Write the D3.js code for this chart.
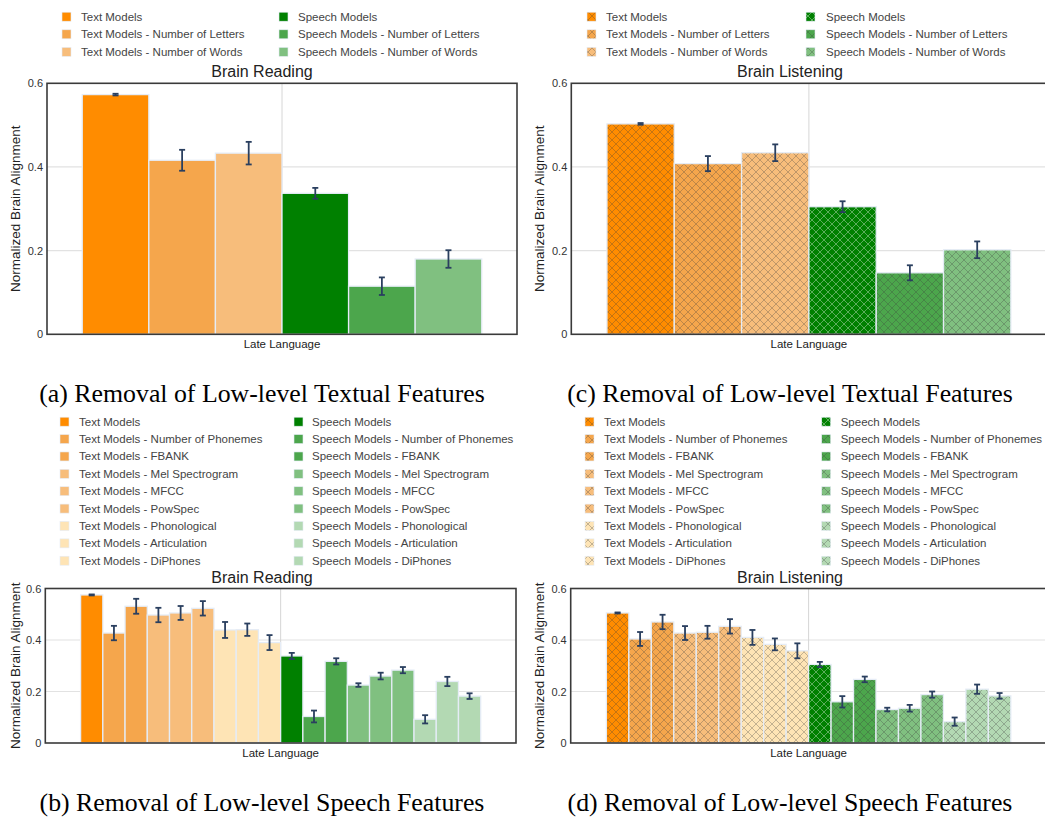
<!DOCTYPE html>
<html>
<head>
<meta charset="utf-8">
<script src="https://cdn.jsdelivr.net/npm/d3@7"></script>
<style>
  body { margin: 0; background: #fff; }
  svg { display: block; font-family: "Liberation Sans", Arial, sans-serif; }
</style>
</head>
<body>
<svg id="chart" width="1045" height="817"></svg>
<script>
const categories = ['Late Language'];
const yTicks = [0, 0.2, 0.4, 0.6];

const textSeries = [
    'Text Models', 'Text Models - Number of Letters', 'Text Models - Number of Words',
    'Speech Models', 'Speech Models - Number of Letters', 'Speech Models - Number of Words'
];
const speechSeries = [
    'Text Models', 'Text Models - Number of Phonemes', 'Text Models - FBANK',
    'Text Models - Mel Spectrogram', 'Text Models - MFCC', 'Text Models - PowSpec',
    'Text Models - Phonological', 'Text Models - Articulation', 'Text Models - DiPhones',
    'Speech Models', 'Speech Models - Number of Phonemes', 'Speech Models - FBANK',
    'Speech Models - Mel Spectrogram', 'Speech Models - MFCC', 'Speech Models - PowSpec',
    'Speech Models - Phonological', 'Speech Models - Articulation', 'Speech Models - DiPhones'
];

const textColors = ['#ff8c00', '#f5a64c', '#f7bd7b', '#008000', '#4ca64c', '#80c080'];
const speechColors = [
    '#ff8c00', '#f5a64c', '#f5a64c', '#f7bd7b', '#f7bd7b', '#f7bd7b', '#fee4b5', '#fee4b5', '#fee4b5',
    '#008000', '#4ca64c', '#4ca64c', '#80c080', '#80c080', '#80c080', '#b3d9b3', '#b3d9b3', '#b3d9b3'
];

// (a) reading, textual features removed
const readingTextVals = [0.573, 0.416, 0.433, 0.337, 0.115, 0.180];
const readingTextErr  = [0.002, 0.025, 0.027, 0.013, 0.021, 0.021];
// (c) listening, textual features removed
const listeningTextVals = [0.503, 0.408, 0.434, 0.305, 0.147, 0.202];
const listeningTextErr  = [0.002, 0.018, 0.020, 0.013, 0.018, 0.020];
// (b) reading, speech features removed
const readingSpeechVals = [0.575, 0.427, 0.531, 0.497, 0.505, 0.523, 0.439, 0.440, 0.390,
                           0.338, 0.103, 0.317, 0.225, 0.260, 0.283, 0.092, 0.239, 0.182];
const readingSpeechErr  = [0.002, 0.028, 0.029, 0.028, 0.027, 0.028, 0.031, 0.024, 0.029,
                           0.012, 0.023, 0.012, 0.007, 0.013, 0.012, 0.016, 0.018, 0.011];
// (d) listening, speech features removed
const listeningSpeechVals = [0.505, 0.404, 0.470, 0.427, 0.430, 0.453, 0.410, 0.383, 0.358,
                             0.305, 0.160, 0.247, 0.130, 0.135, 0.188, 0.083, 0.209, 0.183];
const listeningSpeechErr  = [0.002, 0.027, 0.028, 0.027, 0.025, 0.028, 0.029, 0.023, 0.029,
                             0.010, 0.022, 0.011, 0.007, 0.013, 0.012, 0.016, 0.018, 0.011];

const svg = d3.select('#chart');
const defs = svg.append('defs');

// crosshatch pattern per colour (light lines on dark fills)
const patternId = {};
function hatch(color) {
    if (patternId[color]) return patternId[color];
    const id = 'hatch' + Object.keys(patternId).length;
    const fg = d3.hsl(color).l < 0.35 ? 'rgba(255,255,255,0.45)' : 'rgba(60,60,60,0.38)';
    const p = defs.append('pattern')
        .attr('id', id)
        .attr('patternUnits', 'userSpaceOnUse')
        .attr('width', 8).attr('height', 8);
    p.append('rect').attr('width', 8).attr('height', 8).attr('fill', color);
    p.append('path')
        .attr('d', 'M0,0L8,8M8,0L0,8M-1,7L1,9M7,-1L9,1')
        .attr('stroke', fg)
        .attr('stroke-width', 0.8)
        .attr('fill', 'none');
    patternId[color] = id;
    return id;
}

function drawPanel(cfg) {
    const n = cfg.series.length;
    const fillOf = i => cfg.hatched ? `url(#${hatch(cfg.colors[i])})` : cfg.colors[i];

    // legend, two columns: text models then speech models
    const rows = n / 2;
    cfg.series.forEach((name, i) => {
        const col = i < rows ? 0 : 1;
        const y = cfg.legendY0 + (i % rows) * cfg.legendStep;
        const mx = cfg.legendX[col][0], tx = cfg.legendX[col][1];
        svg.append('rect')
            .attr('x', mx).attr('y', y - 4.5)
            .attr('width', 9).attr('height', 9)
            .attr('fill', fillOf(i))
            .attr('stroke', '#e5ecf6').attr('stroke-width', 0.6);
        svg.append('text')
            .attr('x', tx).attr('y', y)
            .attr('dominant-baseline', 'central')
            .attr('font-size', 11.5)
            .attr('fill', '#444')
            .text(name);
    });

    const x = d3.scaleBand()
        .domain(categories)
        .range([cfg.left, cfg.right])
        .paddingInner(0.15)
        .paddingOuter(0.075);

    const xs = d3.scaleBand()
        .domain(cfg.series)
        .range([0, x.bandwidth()]);

    const y = d3.scaleLinear()
        .domain([0, 0.6])
        .range([cfg.bottom, cfg.top]);

    // grid
    svg.append('g')
        .selectAll('line')
        .data(yTicks.filter(t => t > 0 && t < 0.6))
        .enter().append('line')
        .attr('x1', cfg.left).attr('x2', cfg.right)
        .attr('y1', d => y(d)).attr('y2', d => y(d))
        .attr('stroke', '#e2e2e2').attr('stroke-width', 1.2);

    svg.append('line')
        .attr('x1', x(categories[0]) + x.bandwidth() / 2)
        .attr('x2', x(categories[0]) + x.bandwidth() / 2)
        .attr('y1', cfg.top).attr('y2', cfg.bottom)
        .attr('stroke', '#d6d6d6').attr('stroke-width', 1);

    // y axis
    const yAxis = svg.append('g')
        .attr('transform', `translate(${cfg.left},0)`)
        .call(d3.axisLeft(y).tickValues(yTicks)
            .tickFormat(d => d === 0 ? '0' : d3.format('.1f')(d))
            .tickSize(0).tickPadding(4));
    yAxis.select('.domain').remove();
    yAxis.selectAll('text').attr('font-size', 11).attr('fill', '#333')
        .attr('font-family', '"Liberation Sans", Arial, sans-serif');

    // x axis label
    const xAxis = svg.append('g')
        .attr('transform', `translate(0,${cfg.bottom})`)
        .call(d3.axisBottom(x).tickSize(0).tickPadding(6));
    xAxis.select('.domain').remove();
    xAxis.selectAll('text').attr('font-size', 11.5).attr('fill', '#222')
        .attr('font-family', '"Liberation Sans", Arial, sans-serif');

    // bars
    const bars = cfg.series.map((s, i) => ({ s, i, v: cfg.values[i], e: cfg.errors[i] }));
    const x0 = x(categories[0]);
    svg.append('g')
        .selectAll('rect')
        .data(bars)
        .enter().append('rect')
        .attr('x', d => x0 + xs(d.s))
        .attr('y', d => y(d.v))
        .attr('width', xs.bandwidth())
        .attr('height', d => cfg.bottom - y(d.v))
        .attr('fill', d => fillOf(d.i))
        .attr('stroke', '#e5ecf6')
        .attr('stroke-width', 1.3);

    // error bars
    const eg = svg.append('g')
        .attr('stroke', '#2a3f5f')
        .attr('stroke-width', 1.8);
    bars.forEach(d => {
        const cx = x0 + xs(d.s) + xs.bandwidth() / 2;
        const y1 = y(d.v + d.e), y2 = y(d.v - d.e);
        eg.append('line').attr('x1', cx).attr('x2', cx).attr('y1', y1).attr('y2', y2);
        eg.append('line').attr('x1', cx - 3).attr('x2', cx + 3).attr('y1', y1).attr('y2', y1);
        eg.append('line').attr('x1', cx - 3).attr('x2', cx + 3).attr('y1', y2).attr('y2', y2);
    });

    // frame
    svg.append('rect')
        .attr('x', cfg.left).attr('y', cfg.top)
        .attr('width', cfg.right - cfg.left)
        .attr('height', cfg.bottom - cfg.top)
        .attr('fill', 'none')
        .attr('stroke', '#3a3a3a')
        .attr('stroke-width', 1.6);

    // titles
    svg.append('text')
        .attr('x', cfg.titleX).attr('y', cfg.top - 6)
        .attr('text-anchor', 'middle')
        .attr('font-size', 16)
        .attr('fill', '#222')
        .text(cfg.title);

    svg.append('text')
        .attr('text-anchor', 'middle')
        .attr('font-size', 13.5)
        .attr('fill', '#222')
        .attr('transform', `translate(${cfg.yTitleX},${(cfg.top + cfg.bottom) / 2}) rotate(-90)`)
        .attr('dominant-baseline', 'central')
        .text('Normalized Brain Alignment');

    svg.append('text')
        .attr('x', cfg.captionX).attr('y', cfg.captionY)
        .attr('text-anchor', 'middle')
        .attr('font-family', '"Liberation Serif", "Times New Roman", serif')
        .attr('font-size', 25.8)
        .attr('fill', '#000')
        .text(cfg.caption);
}

drawPanel({
    series: textSeries, colors: textColors, values: readingTextVals, errors: readingTextErr,
    hatched: false, title: 'Brain Reading',
    left: 47, right: 517, top: 83.3, bottom: 334.3,
    legendY0: 16.7, legendStep: 17.6, legendX: [[62, 81], [279, 298]],
    titleX: 262, yTitleX: 15,
    caption: '(a) Removal of Low-level Textual Features', captionX: 262, captionY: 402
});

drawPanel({
    series: textSeries, colors: textColors, values: listeningTextVals, errors: listeningTextErr,
    hatched: true, title: 'Brain Listening',
    left: 571.3, right: 1046.5, top: 83.3, bottom: 334.3,
    legendY0: 16.7, legendStep: 17.6, legendX: [[587, 606], [806, 826]],
    titleX: 790, yTitleX: 539,
    caption: '(c) Removal of Low-level Textual Features', captionX: 790, captionY: 402
});

drawPanel({
    series: speechSeries, colors: speechColors, values: readingSpeechVals, errors: readingSpeechErr,
    hatched: false, title: 'Brain Reading',
    left: 45.3, right: 516, top: 588.5, bottom: 743,
    legendY0: 421.7, legendStep: 17.38, legendX: [[60, 79], [294, 312]],
    titleX: 262, yTitleX: 15,
    caption: '(b) Removal of Low-level Speech Features', captionX: 262, captionY: 811
});

drawPanel({
    series: speechSeries, colors: speechColors, values: listeningSpeechVals, errors: listeningSpeechErr,
    hatched: true, title: 'Brain Listening',
    left: 570.7, right: 1046.5, top: 588.5, bottom: 743,
    legendY0: 421.7, legendStep: 17.38, legendX: [[585, 604], [821.7, 840.7]],
    titleX: 790, yTitleX: 539,
    caption: '(d) Removal of Low-level Speech Features', captionX: 790, captionY: 811
});
</script>
</body>
</html>
